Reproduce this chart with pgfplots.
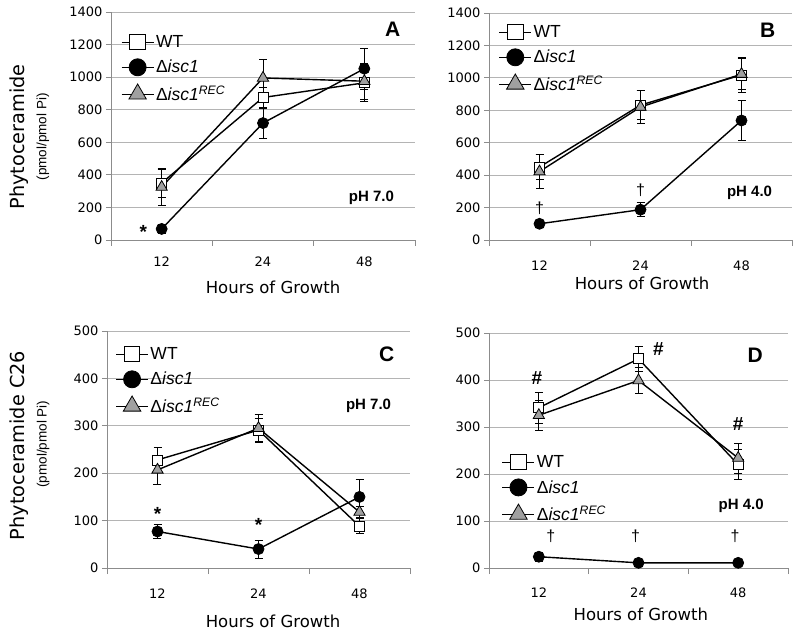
\documentclass[border=0pt]{standalone}
\usepackage{pgfplots}
\pgfplotsset{compat=1.18}
\usepackage{fontspec}
\setmainfont{DejaVu Sans}
\newfontfamily\arial{Liberation Sans}
\definecolor{gridgray}{HTML}{B4B4B4}
\definecolor{axisgray}{HTML}{8C8C8C}
\definecolor{recgray}{HTML}{A0A0A0}

\pgfplotsset{
  panel/.style={
    scale only axis,
    xmin=-0.5, xmax=2.5,
    xtick={0,1,2}, xticklabels={12,24,48},
    minor xtick={-0.5,0.5,1.5,2.5},
    major x tick style={draw=none},
    minor x tick style={axisgray, line width=0.8pt},
    major tick length=5pt, minor tick length=6pt,
    tick align=outside,
    axis x line*=bottom, axis y line*=left,
    axis line style={axisgray, line width=0.8pt, -},
    ytick style={axisgray, line width=0.8pt},
    ymajorgrids, grid style={gridgray, line width=0.8pt},
    tick label style={font=\fontsize{13}{15}\selectfont},
    /pgf/number format/assume math mode=true,
    /pgf/number format/1000 sep={},
    xlabel style={font=\fontsize{16.5}{19}\selectfont},
    ylabel style={font=\fontsize{19.3}{22}\selectfont},
    legend style={draw=none, fill=none, inner sep=0pt, row sep=7.5pt,
      font=\arial\fontsize{17.5}{20}\selectfont, anchor=north west,
      cells={anchor=west}},
    legend image code/.code={\draw[mark repeat=2, mark phase=2, line width=0.8pt,
      every mark/.append style={scale=1.55}] plot coordinates {(0pt,0pt) (16pt,0pt) (32pt,0pt)};},
    clip=false,
  },
  wt/.style={black, line width=1.4pt, mark=square*, mark size=5pt,
    mark options={fill=white, draw=black, line width=0.8pt}},
  ko/.style={black, line width=1.4pt, mark=*, mark size=5.5pt,
    mark options={fill=black, draw=black, line width=0.8pt}},
  rec/.style={black, line width=1.4pt, mark=triangle*, mark size=6.5pt,
    mark options={fill=recgray, draw=black, line width=0.8pt}},
  eb/.style={error bars/.cd, y dir=both, y explicit,
    error bar style={black, line width=0.8pt},
    error mark options={rotate=90, mark size=4pt, black, line width=0.8pt}},
}
\tikzset{
  star/.style={font=\arial\bfseries\fontsize{19}{21}\selectfont},
  dag/.style={font=\arial\fontsize{16}{19}\selectfont},
  letter/.style={font=\arial\bfseries\fontsize{21}{24}\selectfont},
  ph/.style={font=\arial\bfseries\fontsize{15}{18}\selectfont},
  units/.style={rotate=90, font=\arial\fontsize{13.5}{16}\selectfont},
}

\begin{document}
\begin{tikzpicture}
\useasboundingbox (0pt,0pt) rectangle (800pt,632pt);

% ---- A ----
\begin{axis}[panel, at={(111pt,392pt)}, anchor=south west, width=304pt, height=228pt,
  ymin=0, ymax=1400, ytick={0,200,...,1400},
  xticklabel style={yshift=-8pt},
  xlabel={Hours of Growth}, ylabel={Phytoceramide},
  xlabel style={at={(axis description cs:0.533,-0.206)}, anchor=center},
  ylabel style={at={(axis description cs:-0.303,0.452)}, anchor=center},
  legend style={at={(0.033,0.908)}}]
  \addplot[wt, eb] coordinates {(0,350) +- (0,90) (1,875) +- (0,60) (2,965) +- (0,115)};
  \addlegendentry{WT}
  \addplot[ko, eb] coordinates {(0,68) +- (0,25) (1,718) +- (0,92) (2,1052) +- (0,125)};
  \addlegendentry{Δ\textit{isc1}}
  \addplot[rec, eb] coordinates {(0,325) +- (0,110) (1,995) +- (0,112) (2,975) +- (0,110)};
  \addlegendentry{Δ\textit{isc1\textsuperscript{REC}}}
  \node[units] at (axis description cs:-0.224,0.452) {(pmol/pmol Pi)};
  \node[star] at (axis cs:-0.18,52) {*};
  \node[letter] at (axis cs:2.28,1292) {A};
  \node[ph] at (axis cs:2.07,260) {pH 7.0};
\end{axis}

% ---- B ----
\begin{axis}[panel, at={(489pt,392pt)}, anchor=south west, width=303pt, height=227pt,
  ymin=0, ymax=1400, ytick={0,200,...,1400},
  xticklabel style={yshift=-12pt},
  xlabel={Hours of Growth},
  xlabel style={at={(axis description cs:0.505,-0.189)}, anchor=center},
  legend style={at={(0.032,0.956)}}]
  \addplot[wt, eb] coordinates {(0,450) +- (0,75) (1,832) +- (0,90) (2,1018) +- (0,110)};
  \addlegendentry{WT}
  \addplot[ko, eb] coordinates {(0,100) +- (0,12) (1,187) +- (0,42) (2,737) +- (0,125)};
  \addlegendentry{Δ\textit{isc1}}
  \addplot[rec, eb] coordinates {(0,422) +- (0,103) (1,820) +- (0,100) (2,1023) +- (0,95)};
  \addlegendentry{Δ\textit{isc1\textsuperscript{REC}}}
  \node[dag] at (axis cs:0,197) {†};
  \node[dag] at (axis cs:1,308) {†};
  \node[letter] at (axis cs:2.26,1295) {B};
  \node[ph] at (axis cs:2.08,292) {pH 4.0};
\end{axis}

% ---- C ----
\begin{axis}[panel, at={(107pt,64pt)}, anchor=south west, width=303pt, height=237pt,
  ymin=0, ymax=500, ytick={0,100,...,500},
  xticklabel style={yshift=-12pt},
  xlabel={Hours of Growth}, ylabel={Phytoceramide C26},
  xlabel style={at={(axis description cs:0.548,-0.224)}, anchor=center},
  ylabel style={at={(axis description cs:-0.290,0.517)}, anchor=center},
  legend style={at={(0.028,0.941)}}]
  \addplot[wt, eb] coordinates {(0,228) +- (0,27) (1,291) +- (0,25) (2,88) +- (0,16)};
  \addlegendentry{WT}
  \addplot[ko, eb] coordinates {(0,77) +- (0,15) (1,40) +- (0,19) (2,150) +- (0,37)};
  \addlegendentry{Δ\textit{isc1}}
  \addplot[rec, eb] coordinates {(0,207) +- (0,30) (1,295) +- (0,28) (2,118) +- (0,12)};
  \addlegendentry{Δ\textit{isc1\textsuperscript{REC}}}
  \node[units] at (axis description cs:-0.211,0.523) {(pmol/pmol Pi)};
  \node[star] at (axis cs:0,114) {*};
  \node[star] at (axis cs:1,90) {*};
  \node[letter] at (axis cs:2.27,450) {C};
  \node[ph] at (axis cs:2.09,342) {pH 7.0};
\end{axis}

% ---- D ----
\begin{axis}[panel, at={(489pt,64pt)}, anchor=south west, width=299pt, height=235pt,
  ymin=0, ymax=500, ytick={0,100,...,500},
  xticklabel style={yshift=-11pt},
  xlabel={Hours of Growth},
  xlabel style={at={(axis description cs:0.508,-0.196)}, anchor=center},
  legend style={at={(0.043,0.489)}}]
  \addplot[wt, eb] coordinates {(0,341) +- (0,33) (1,445) +- (0,26) (2,220) +- (0,32)};
  \addlegendentry{WT}
  \addplot[ko, eb] coordinates {(0,24) +- (0,10) (1,11) +- (0,3) (2,11) +- (0,3)};
  \addlegendentry{Δ\textit{isc1}}
  \addplot[rec, eb] coordinates {(0,325) +- (0,32) (1,399) +- (0,28) (2,234) +- (0,32)};
  \addlegendentry{Δ\textit{isc1\textsuperscript{REC}}}
  \node[star] at (axis cs:-0.02,405) {\#};
  \node[star] at (axis cs:1.2,466) {\#};
  \node[star] at (axis cs:2,306) {\#};
  \node[dag] at (axis cs:0.12,67) {†};
  \node[dag] at (axis cs:0.97,67) {†};
  \node[dag] at (axis cs:1.97,67) {†};
  \node[letter] at (axis cs:2.17,452) {D};
  \node[ph] at (axis cs:2.03,132.5) {pH 4.0};
\end{axis}
\end{tikzpicture}
\end{document}
